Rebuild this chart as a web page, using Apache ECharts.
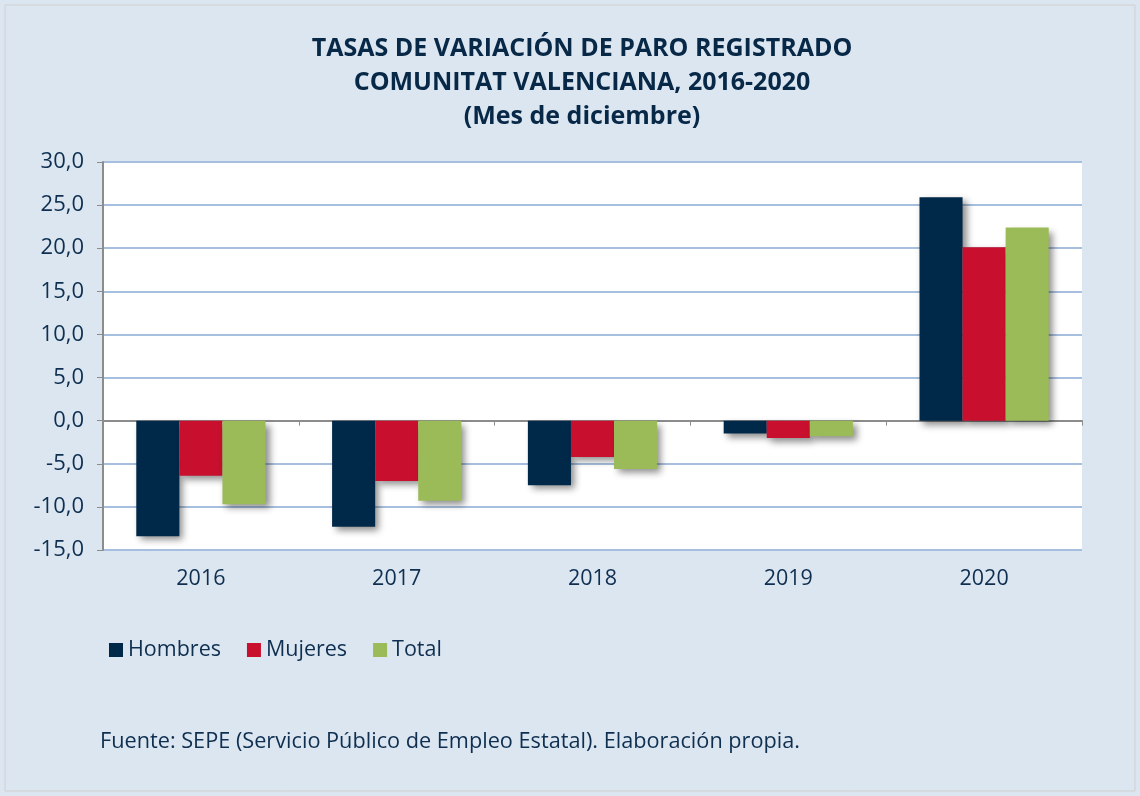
<!DOCTYPE html>
<html>
<head>
<meta charset="utf-8">
<script src="https://cdn.jsdelivr.net/npm/echarts@6/dist/echarts.min.js"></script>
<style>
html, body { margin: 0; padding: 0; background: #ffffff; }
#chart { width: 1140px; height: 796px; }
</style>
</head>
<body>
<div id="chart"></div>
<script>
// datos
var years = ['2016', '2017', '2018', '2019', '2020'];
var hombres = [-13.4, -12.3, -7.5, -1.5, 25.9];
var mujeres = [-6.4, -7.0, -4.2, -2.0, 20.1];
var total = [-9.7, -9.3, -5.6, -1.8, 22.4];

var textColor = '#0e2f50';
var titleColor = '#072846';
var fontName = '"Open Sans", "Noto Sans", sans-serif';

function barSerie(name, data, color){
    return {
        name: name,
        type: 'bar',
        xAxisIndex: 0,
        data: data,
        barGap: '0%',
        barCategoryGap: '34%',
        itemStyle: {
            color: color,
            shadowColor: 'rgba(0,0,0,0.45)',
            shadowBlur: 7,
            shadowOffsetX: 4,
            shadowOffsetY: 4
        }
    };
}

var myChart = echarts.init(document.getElementById('chart'));
var option = {
    backgroundColor: '#dce6f1',
    textStyle: { fontFamily: fontName },
    title: {
        text: 'TASAS DE VARIACIÓN DE PARO REGISTRADO\nCOMUNITAT VALENCIANA, 2016-2020\n(Mes de diciembre)',
        left: 577,
        top: 27,
        textAlign: 'center',
        textStyle: {
            color: titleColor,
            fontSize: 25,
            fontWeight: 'bold',
            lineHeight: 34,
            fontFamily: fontName
        }
    },
    graphic: [{
        type: 'rect',
        shape: { x: 5, y: 5, width: 1130, height: 786 },
        style: { fill: 'none', stroke: '#d0d0d0', lineWidth: 1 },
        silent: true
    }, {
        type: 'text',
        left: 100,
        top: 731,
        style: {
            text: 'Fuente: SEPE (Servicio Público de Empleo Estatal). Elaboración propia.',
            fill: textColor,
            font: '21.7px ' + fontName
        }
    }],
    legend: {
        data: ['Hombres', 'Mujeres', 'Total'],
        left: 104,
        top: 634,
        itemWidth: 14,
        itemHeight: 14,
        itemGap: 26,
        icon: 'rect',
        textStyle: { color: textColor, fontSize: 21.5, fontFamily: fontName }
    },
    grid: {
        left: 103,
        right: 58,
        top: 162,
        bottom: 246,
        show: true,
        backgroundColor: '#ffffff',
        borderWidth: 0
    },
    xAxis: [{
        type: 'category',
        data: years,
        position: 'bottom',
        axisLine: { onZero: false, show: false },
        axisTick: { show: false },
        axisLabel: { color: textColor, fontSize: 21.5, margin: 18, fontFamily: fontName }
    }, {
        type: 'category',
        data: years,
        position: 'top',
        axisLine: { onZero: true, lineStyle: { color: '#8c8c8c', width: 2 } },
        axisTick: { show: true, inside: true, length: 5, lineStyle: { color: '#8c8c8c' } },
        axisLabel: { show: false }
    }],
    yAxis: {
        type: 'value',
        min: -15,
        max: 30,
        interval: 5,
        axisLine: { show: true, lineStyle: { color: '#8c8c8c', width: 2 } },
        axisTick: { show: true, length: 6, lineStyle: { color: '#8c8c8c' } },
        axisLabel: {
            color: textColor,
            fontSize: 22,
            margin: 19,
            fontFamily: fontName,
            formatter: function(v){ return v.toFixed(1).replace('.', ','); }
        },
        splitLine: { lineStyle: { color: '#a7bfde', width: 2 } }
    },
    series: [
        barSerie('Hombres', hombres, '#002848'),
        barSerie('Mujeres', mujeres, '#c8102e'),
        barSerie('Total', total, '#9bbb59')
    ]
};
myChart.setOption(option);
</script>
</body>
</html>
